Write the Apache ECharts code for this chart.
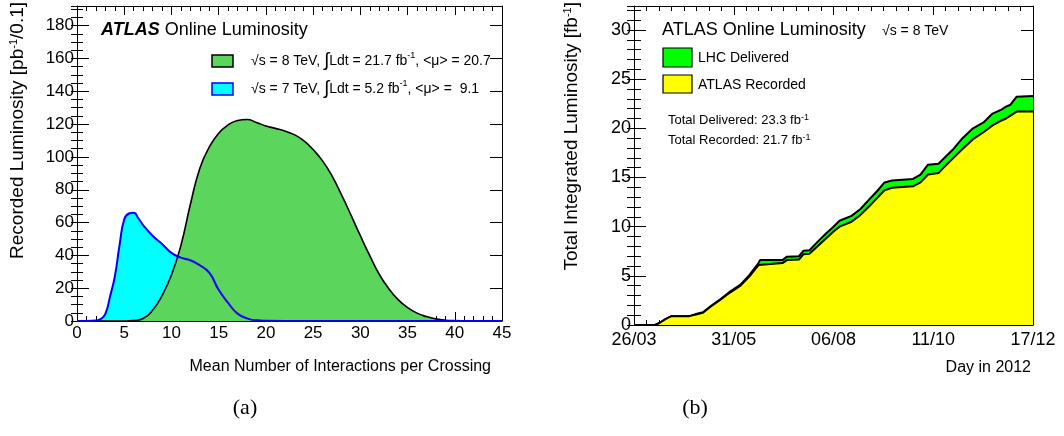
<!DOCTYPE html>
<html>
<head>
<meta charset="utf-8">
<script src="https://cdn.jsdelivr.net/npm/echarts@6/dist/echarts.min.js"></script>
<style>
html,body{margin:0;padding:0;background:#fff;}
#chart{width:1064px;height:436px;}
</style>
</head>
<body>
<div id="chart"></div>
<script>
// ---------- Panel (a): pile-up distributions ----------
const mu8TeV   = [0,1,2,3,4,5,6,7,8,9,10,11,12,13,14,15,16,17,18,19,20,21,22,23,24,25,26,27,28,29,30,31,32,33,34,35,36,37,38,39,40,41,42,43,44,45];
const lumi8TeV = [0,0,0,0,0,0,0.2,1.5,6.5,15.5,28,46,71,93,106,114.5,119.5,122.2,122.8,121,118.9,117.4,115.8,113.6,110,104.5,97.6,88.5,77,64.7,52,39.8,28.5,19.8,13,8.2,4.8,2.7,1.3,0.5,0.2,0.1,0,0,0,0];

const mu7TeV   = [0,1,2,2.5,3,3.5,4,4.5,5,5.5,6,6.5,7,8,9,10,11,12,13,14,15,16,17,18,19,20,22,45];
const lumi7TeV = [0,0,0.3,1.2,4.3,15,27,46,62,65.5,66,62.5,58.5,52,47,41.5,38.6,37,34,29.5,19,11,4.5,1.6,0.4,0.1,0,0];

// ---------- Panel (b): integrated luminosity vs day (day 0 = 26/03/2012) ----------
const dayIndex  = [0,14,17,21,25,37,42,46,51,57,64,71,77,83,84,99,102,110,113,117,122,128,133,137,145,151,157,162,167,172,186,191,196,203,207,213,219,226,233,239,245,248,251,255,266];
const delivered = [0,0,0.2,0.6,0.9,0.9,1.15,1.3,1.9,2.55,3.4,4.1,5.1,6.3,6.6,6.6,6.95,7.0,7.55,7.6,8.4,9.3,10.0,10.6,11.1,11.8,12.8,13.6,14.5,14.7,14.85,15.3,16.3,16.4,17.0,17.9,19.0,20.0,20.6,21.5,21.9,22.2,22.4,23.2,23.3];
const recorded  = [0,0,0.2,0.6,0.9,0.9,1.1,1.25,1.85,2.5,3.3,4.0,4.95,6.1,6.3,6.3,6.6,6.65,7.2,7.25,7.95,8.8,9.5,10.0,10.5,11.2,12.1,12.9,13.7,13.95,14.1,14.5,15.3,15.45,16.1,17.0,17.9,18.9,19.6,20.3,20.8,21.0,21.3,21.7,21.7];
const dateTickLabels = ['26/03','31/05','06/08','11/10','17/12'];

const zip = (xs, ys) => xs.map((x, i) => [x, ys[i]]);
const F = "'Liberation Sans', Arial, Helvetica, sans-serif";
const BLACK = '#000';
const frameLine = {show: true, onZero: false, lineStyle: {color: BLACK, width: 1}};
const noLine = {show: false};

function xAxisDef(grid, pos, min, max, interval, minorSplit, label) {
  return {
    gridIndex: grid, type: 'value', position: pos, min: min, max: max, interval: interval,
    axisLine: frameLine,
    axisTick: {show: true, inside: true, length: 9, lineStyle: {color: BLACK, width: 1}},
    minorTick: {show: true, splitNumber: minorSplit, length: 5, lineStyle: {color: BLACK, width: 1}},
    axisLabel: label || {show: false},
    splitLine: {show: false}, minorSplitLine: {show: false}
  };
}
function yAxisDef(grid, pos, max, interval, tickLen, showLine, label) {
  return {
    gridIndex: grid, type: 'value', position: pos, min: 0, max: max, interval: interval,
    axisLine: showLine ? frameLine : noLine,
    axisTick: {show: true, inside: true, length: tickLen, lineStyle: {color: BLACK, width: 1}},
    axisLabel: label || {show: false},
    splitLine: {show: false}
  };
}

const leftYMax = 192, rightYMax = 32.44;

const option = {
  animation: false,
  backgroundColor: '#fff',
  grid: [
    {left: 77, right: 562, top: 6, bottom: 115, containLabel: false, outerBoundsMode: 'none'},
    {left: 634, right: 31, top: 6, bottom: 111, containLabel: false, outerBoundsMode: 'none'}
  ],
  xAxis: [
    xAxisDef(0, 'bottom', 0, 45, 5, 5, {show: true, color: BLACK, fontSize: 17, fontFamily: F, margin: 4, showMinLabel: true, showMaxLabel: true}),
    xAxisDef(0, 'top', 0, 45, 5, 5, null),
    xAxisDef(1, 'bottom', 0, 266, 66.5, 8, {show: true, color: BLACK, fontSize: 18, fontFamily: F, margin: 6, showMinLabel: true, showMaxLabel: true,
      formatter: v => dateTickLabels[Math.round(v / 66.5)] || ''}),
    xAxisDef(1, 'top', 0, 266, 66.5, 8, null)
  ],
  yAxis: [
    yAxisDef(0, 'left', leftYMax, 20, 12, true, {show: true, color: BLACK, fontSize: 17, fontFamily: F, margin: 3,
      formatter: v => (Math.abs(v % 20) < 1e-6 ? String(v) : '')}),
    yAxisDef(0, 'left', leftYMax, 5, 6, false, null),
    yAxisDef(0, 'right', leftYMax, 20, 12, true, null),
    yAxisDef(0, 'right', leftYMax, 5, 6, false, null),
    yAxisDef(1, 'left', rightYMax, 5, 12, true, {show: true, color: BLACK, fontSize: 18, fontFamily: F, margin: 3,
      formatter: v => (Math.abs(v % 5) < 1e-6 ? String(v) : '')}),
    yAxisDef(1, 'left', rightYMax, 1, 7, false, null),
    yAxisDef(1, 'right', rightYMax, 5, 12, true, null),
    yAxisDef(1, 'right', rightYMax, 1, 7, false, null)
  ],
  series: [
    {name: '7 TeV fill', type: 'line', xAxisIndex: 0, yAxisIndex: 0, data: zip(mu7TeV, lumi7TeV),
      smooth: 0.5, showSymbol: false, z: 1,
      lineStyle: {width: 0, color: '#00ffff'}, areaStyle: {color: '#00ffff', opacity: 1}},
    {name: '8 TeV', type: 'line', xAxisIndex: 0, yAxisIndex: 0, data: zip(mu8TeV, lumi8TeV),
      smooth: 0.5, showSymbol: false, z: 2,
      lineStyle: {width: 1.6, color: '#000'}, areaStyle: {color: '#5bd55b', opacity: 1}},
    {name: '7 TeV', type: 'line', xAxisIndex: 0, yAxisIndex: 0, data: zip(mu7TeV, lumi7TeV),
      smooth: 0.5, showSymbol: false, z: 3,
      lineStyle: {width: 2, color: '#0000ff'}},
    {name: 'LHC Delivered', type: 'line', xAxisIndex: 2, yAxisIndex: 4, data: zip(dayIndex, delivered),
      showSymbol: false, z: 1, lineStyle: {width: 2, color: '#000'}, areaStyle: {color: '#00ff00', opacity: 1}},
    {name: 'ATLAS Recorded', type: 'line', xAxisIndex: 2, yAxisIndex: 4, data: zip(dayIndex, recorded),
      showSymbol: false, z: 2, lineStyle: {width: 2, color: '#000'}, areaStyle: {color: '#ffff00', opacity: 1}}
  ],
  graphic: {elements: [
    // ---- panel (a) texts ----
    {type: 'text', x: 101, y: 30, z: 100, style: {text: '{b|ATLAS} Online Luminosity', fontSize: 18, fontFamily: F, fill: BLACK, verticalAlign: 'middle',
      rich: {b: {fontSize: 18, fontFamily: F, fontWeight: 'bold', fontStyle: 'italic', fill: BLACK}}}},
    {type: 'rect', z: 100, shape: {x: 212, y: 55, width: 21, height: 12}, style: {fill: '#5bd55b', stroke: BLACK, lineWidth: 1.5}},
    {type: 'rect', z: 100, shape: {x: 212, y: 83, width: 21, height: 12}, style: {fill: '#00ffff', stroke: '#0000ff', lineWidth: 1.5}},
    {type: 'text', x: 251, y: 61, z: 100, style: {text: '√s = 8 TeV, {i|∫}Ldt = 21.7 fb{s|-1}, <μ> = 20.7', fontSize: 14, fontFamily: F, fill: BLACK, verticalAlign: 'middle',
      rich: {s: {fontSize: 9, fontFamily: F, verticalAlign: 'top', fill: BLACK}, i: {fontSize: 19, fontFamily: F, fill: BLACK}}}},
    {type: 'text', x: 251, y: 89, z: 100, style: {text: '√s = 7 TeV, {i|∫}Ldt = 5.2 fb{s|-1}, <μ> =  9.1', fontSize: 14, fontFamily: F, fill: BLACK, verticalAlign: 'middle',
      rich: {s: {fontSize: 9, fontFamily: F, verticalAlign: 'top', fill: BLACK}, i: {fontSize: 19, fontFamily: F, fill: BLACK}}}},
    {type: 'text', x: 18, y: 2, rotation: Math.PI / 2, z: 100, style: {text: 'Recorded Luminosity [pb{s|-1}/0.1]', fontSize: 19, fontFamily: F, fill: BLACK, align: 'right', verticalAlign: 'middle',
      rich: {s: {fontSize: 11, fontFamily: F, verticalAlign: 'top', fill: BLACK}}}},
    {type: 'text', x: 491, y: 367, z: 100, style: {text: 'Mean Number of Interactions per Crossing', fontSize: 16, fontFamily: F, fill: BLACK, align: 'right', verticalAlign: 'middle'}},
    // ---- panel (b) texts ----
    {type: 'text', x: 662, y: 30, z: 100, style: {text: 'ATLAS Online Luminosity', fontSize: 18, fontFamily: F, fill: BLACK, verticalAlign: 'middle'}},
    {type: 'text', x: 882, y: 31, z: 100, style: {text: '√s = 8 TeV', fontSize: 14, fontFamily: F, fill: BLACK, verticalAlign: 'middle'}},
    {type: 'rect', z: 100, shape: {x: 663, y: 48, width: 29, height: 19}, style: {fill: '#00ff00', stroke: BLACK, lineWidth: 1.2}},
    {type: 'rect', z: 100, shape: {x: 663, y: 75, width: 29, height: 18}, style: {fill: '#ffff00', stroke: BLACK, lineWidth: 1.2}},
    {type: 'text', x: 698, y: 58, z: 100, style: {text: 'LHC Delivered', fontSize: 14, fontFamily: F, fill: BLACK, verticalAlign: 'middle'}},
    {type: 'text', x: 698, y: 85, z: 100, style: {text: 'ATLAS Recorded', fontSize: 14, fontFamily: F, fill: BLACK, verticalAlign: 'middle'}},
    {type: 'text', x: 668, y: 120, z: 100, style: {text: 'Total Delivered: 23.3 fb{s|-1}', fontSize: 13, fontFamily: F, fill: BLACK, verticalAlign: 'middle',
      rich: {s: {fontSize: 9, fontFamily: F, verticalAlign: 'top', fill: BLACK}}}},
    {type: 'text', x: 668, y: 140, z: 100, style: {text: 'Total Recorded: 21.7 fb{s|-1}', fontSize: 13, fontFamily: F, fill: BLACK, verticalAlign: 'middle',
      rich: {s: {fontSize: 9, fontFamily: F, verticalAlign: 'top', fill: BLACK}}}},
    {type: 'text', x: 572, y: 2, rotation: Math.PI / 2, z: 100, style: {text: 'Total Integrated Luminosity [fb{s|-1}]', fontSize: 19, fontFamily: F, fill: BLACK, align: 'right', verticalAlign: 'middle',
      rich: {s: {fontSize: 11, fontFamily: F, verticalAlign: 'top', fill: BLACK}}}},
    {type: 'text', x: 1031, y: 368, z: 100, style: {text: 'Day in 2012', fontSize: 16, fontFamily: F, fill: BLACK, align: 'right', verticalAlign: 'middle'}},
    // ---- sub-figure captions ----
    {type: 'text', x: 245, y: 408, z: 100, style: {text: '(a)', fontSize: 22, fontFamily: "'Liberation Serif', 'DejaVu Serif', serif", fill: BLACK, align: 'center', verticalAlign: 'middle'}},
    {type: 'text', x: 695, y: 408, z: 100, style: {text: '(b)', fontSize: 22, fontFamily: "'Liberation Serif', 'DejaVu Serif', serif", fill: BLACK, align: 'center', verticalAlign: 'middle'}}
  ]}
};

const chart = echarts.init(document.getElementById('chart'), null, {renderer: 'canvas'});
chart.setOption(option);
</script>
</body>
</html>
